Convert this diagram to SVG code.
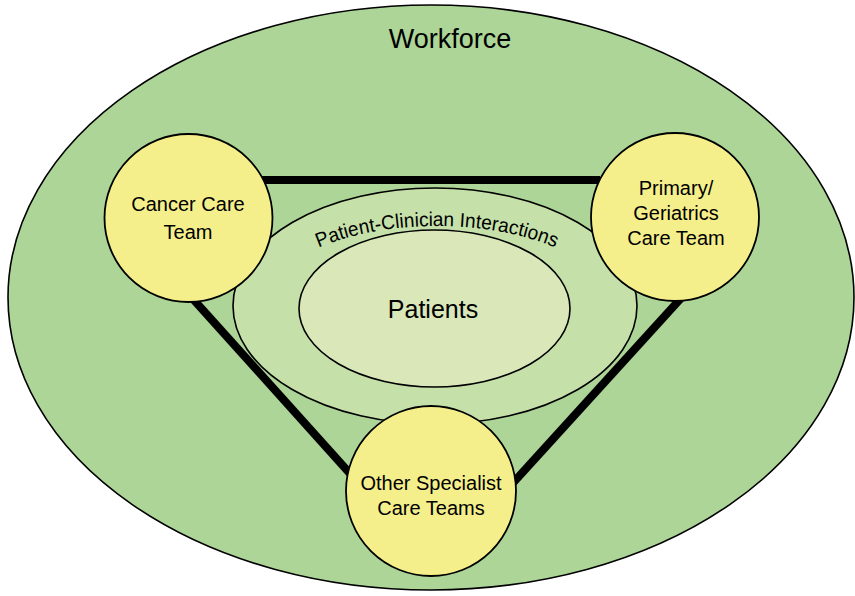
<svg xmlns="http://www.w3.org/2000/svg" width="855" height="596" viewBox="0 0 855 596">
<style>
.ring{stroke:#000;stroke-width:1.6}
.team{fill:#f5ef8b;stroke:#000;stroke-width:1.8}
.lbl{font-family:"Liberation Sans",Arial,sans-serif;fill:#000;text-anchor:middle}
.link{stroke:#000;stroke-width:8;fill:none}
</style>
<rect width="855" height="596" fill="#ffffff"/>
<g id="workforce">
<ellipse class="ring" cx="431" cy="297.5" rx="423" ry="292.5" fill="#acd597"/>
<text class="lbl" x="450" y="48" font-size="27">Workforce</text>
</g>
<g id="interactions">
<ellipse class="ring" cx="435" cy="306" rx="202" ry="118" fill="#c5e0a9"/>
<path id="arcPath" d="M 262,308 A 175,82 0 0 1 612,308" fill="none"/>
<text class="lbl" font-size="20"><textPath href="#arcPath" startOffset="50%" textLength="242" lengthAdjust="spacingAndGlyphs">Patient-Clinician Interactions</textPath></text>
</g>
<g id="patients">
<ellipse class="ring" cx="434.5" cy="308.5" rx="135.5" ry="78.5" fill="#d9e7b9"/>
<text class="lbl" x="433" y="318" font-size="25">Patients</text>
</g>
<g id="connectors">
<line class="link" x1="262" y1="180" x2="600" y2="180"/>
<line class="link" x1="193" y1="299" x2="354" y2="478"/>
<line class="link" x1="683" y1="296" x2="512" y2="484"/>
</g>
<g id="cancer">
<circle class="team" cx="188.5" cy="218" r="84"/>
<text class="lbl" x="188" y="211" font-size="20">Cancer Care</text>
<text class="lbl" x="188" y="239" font-size="20">Team</text>
</g>
<g id="primary">
<circle class="team" cx="675" cy="217" r="84"/>
<text class="lbl" x="676" y="195" font-size="20">Primary/</text>
<text class="lbl" x="676" y="220" font-size="20">Geriatrics</text>
<text class="lbl" x="676" y="245" font-size="20">Care Team</text>
</g>
<g id="other">
<circle class="team" cx="431" cy="491" r="85"/>
<text class="lbl" x="431" y="490" font-size="20">Other Specialist</text>
<text class="lbl" x="431" y="515" font-size="20">Care Teams</text>
</g>
</svg>
